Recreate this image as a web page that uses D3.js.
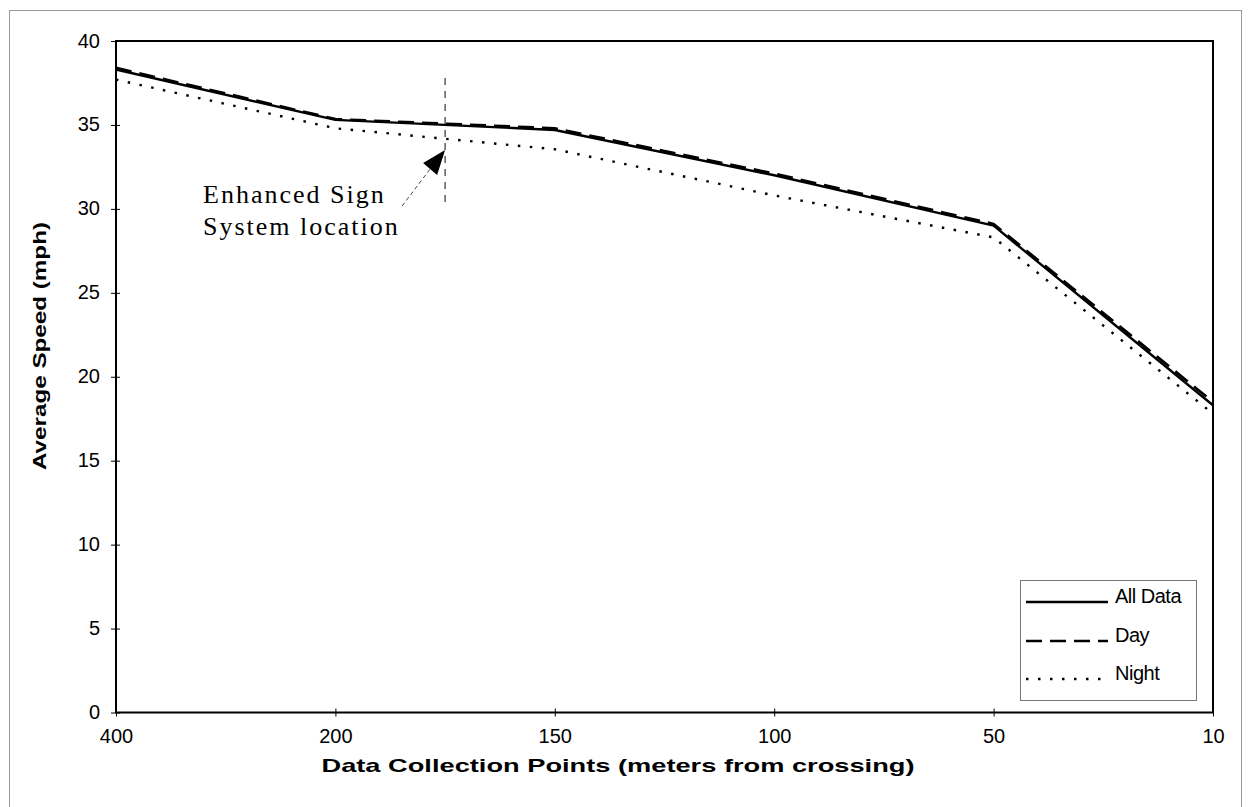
<!DOCTYPE html>
<html>
<head>
<meta charset="utf-8">
<script src="https://cdn.jsdelivr.net/npm/d3@7"></script>
<style>
  body { margin: 0; background: #fff; }
  svg { display: block; }
  text { font-family: "Liberation Sans", Arial, sans-serif; fill: #000; }
</style>
</head>
<body>
<svg id="speed-chart"></svg>
<script>
// data collection points (meters from crossing)
const points = ["400", "200", "150", "100", "50", "10"];
const allData = [38.3, 35.3, 34.7, 32.0, 29.0, 18.3];
const day = [38.4, 35.35, 34.8, 32.1, 29.1, 18.5];
const night = [37.7, 34.8, 33.55, 30.8, 28.3, 17.8];
const yTicks = [0, 5, 10, 15, 20, 25, 30, 35, 40];
// sign sits half way between these two points
const signBetween = ["200", "150"];

const series = [
    { name: "All Data", values: allData, dash: null, width: 2.4 },
    { name: "Day", values: day, dash: "16,8", width: 2.6 },
    { name: "Night", values: night, dash: "2.5,9.5", width: 2.4 }
];

// set the dimensions and margins of the graph
const W = 1249, H = 807;
const margin = { top: 41, right: 36, bottom: 94.5, left: 116 },
    width = W - margin.left - margin.right,
    height = H - margin.top - margin.bottom;

const root = d3.select("#speed-chart")
    .attr("width", W)
    .attr("height", H);

// faint outer frame of the chart area
root.append("rect")
    .attr("x", 9.5).attr("y", 10.5)
    .attr("width", 1232).attr("height", 810)
    .attr("fill", "none")
    .attr("stroke", "#9a9a9a")
    .attr("stroke-width", 1);

const svg = root.append("g")
    .attr("transform", `translate(${margin.left},${margin.top})`);

const x = d3.scalePoint()
    .domain(points)
    .range([0, width])
    .padding(0);

const y = d3.scaleLinear()
    .domain([0, 40])
    .range([height, 0]);

// Y axis ticks + labels
const yAxis = svg.append("g")
    .call(d3.axisLeft(y).tickValues(yTicks).tickSize(5).tickPadding(11));
yAxis.select(".domain").remove();
yAxis.selectAll(".tick line").attr("x2", 4).attr("x1", -5).attr("stroke", "#000");
yAxis.selectAll(".tick text")
    .style("font-size", "20px")
    .attr("dy", "0.3em");

// X axis ticks + labels
const xAxis = svg.append("g")
    .attr("transform", `translate(0,${height})`)
    .call(d3.axisBottom(x).tickSize(4).tickPadding(12));
xAxis.select(".domain").remove();
xAxis.selectAll(".tick line").attr("y1", -4).attr("y2", 4).attr("stroke", "#000");
xAxis.selectAll(".tick text")
    .style("font-size", "20px");

// plot frame
svg.append("rect")
    .attr("width", width)
    .attr("height", height)
    .attr("fill", "none")
    .attr("stroke", "#000")
    .attr("stroke-width", 2);

// the lines
const line = d3.line()
    .x((d, i) => x(points[i]))
    .y(d => y(d));

svg.selectAll(".series")
    .data(series)
    .join("path")
    .attr("class", "series")
    .attr("d", d => line(d.values))
    .attr("fill", "none")
    .attr("stroke", "#000")
    .attr("stroke-width", d => d.width)
    .attr("stroke-dasharray", d => d.dash)
    .attr("stroke-linejoin", "round");

// Enhanced Sign System location marker
const signX = (x(signBetween[0]) + x(signBetween[1])) / 2;
svg.append("line")
    .attr("x1", signX).attr("x2", signX)
    .attr("y1", 78 - margin.top).attr("y2", 205 - margin.top)
    .attr("stroke", "#333")
    .attr("stroke-width", 1.2)
    .attr("stroke-dasharray", "7,6");

const tip = [signX, 150 - margin.top];
svg.append("line")
    .attr("x1", tip[0] - 43).attr("y1", tip[1] + 56)
    .attr("x2", tip[0] - 15).attr("y2", tip[1] + 19)
    .attr("stroke", "#444")
    .attr("stroke-width", 1)
    .attr("stroke-dasharray", "4,3");
svg.append("path")
    .attr("d", `M${tip[0]},${tip[1]} L${tip[0] - 22},${tip[1] + 13} L${tip[0] - 8},${tip[1] + 25} Z`)
    .attr("fill", "#000");

const note = svg.append("text")
    .attr("x", 203 - margin.left)
    .style("font-family", "'Liberation Serif', 'Times New Roman', serif")
    .style("font-size", "26px")
    .style("letter-spacing", "2px");
note.append("tspan").attr("x", 203 - margin.left).attr("y", 203 - margin.top).text("Enhanced Sign");
note.append("tspan").attr("x", 203 - margin.left).attr("y", 235 - margin.top).text("System location");

// legend
const legend = root.append("g").attr("transform", "translate(1020,580)");
legend.append("rect")
    .attr("x", 0.5).attr("y", 0.5)
    .attr("width", 176).attr("height", 120)
    .attr("fill", "#fff")
    .attr("stroke", "#777")
    .attr("stroke-width", 1);

const rows = legend.selectAll(".row")
    .data(series)
    .join("g")
    .attr("class", "row")
    .attr("transform", (d, i) => `translate(0,${[22, 61, 99][i]})`);
rows.append("line")
    .attr("x1", 6).attr("x2", 88)
    .attr("stroke", "#000")
    .attr("stroke-width", d => d.width)
    .attr("stroke-dasharray", d => d.dash);
rows.append("text")
    .attr("x", 95)
    .attr("y", 1)
    .style("font-size", "20px")
    .style("letter-spacing", "-0.5px")
    .text(d => d.name);

// axis titles
root.append("text")
    .attr("x", 618)
    .attr("y", 772)
    .attr("text-anchor", "middle")
    .attr("textLength", 593)
    .attr("lengthAdjust", "spacingAndGlyphs")
    .style("font-size", "19px")
    .style("font-weight", "bold")
    .text("Data Collection Points (meters from crossing)");

root.append("text")
    .attr("transform", "translate(46,346) rotate(-90)")
    .attr("text-anchor", "middle")
    .attr("textLength", 248)
    .attr("lengthAdjust", "spacingAndGlyphs")
    .style("font-size", "19px")
    .style("font-weight", "bold")
    .text("Average Speed (mph)");
</script>
</body>
</html>
